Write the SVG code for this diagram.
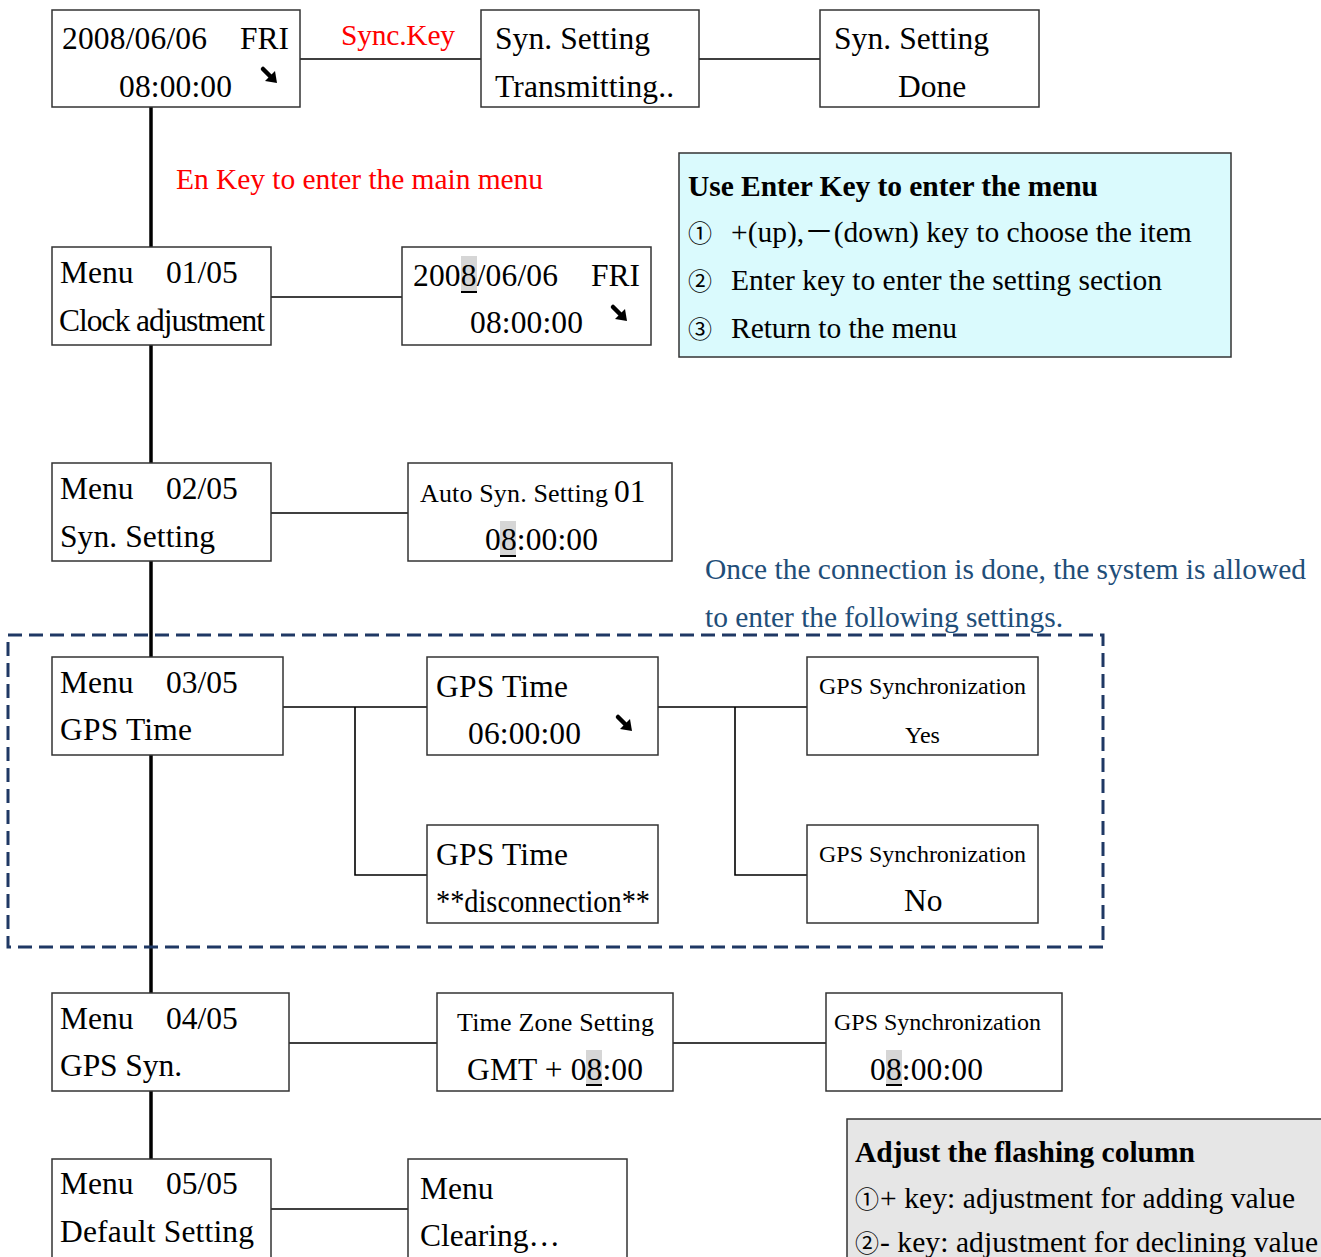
<svg xmlns="http://www.w3.org/2000/svg" width="1321" height="1257" viewBox="0 0 1321 1257">
<style>
text{font-family:"Liberation Serif","Times New Roman",serif;fill:#000}
.t{font-size:31.5px}
.s{font-size:24px}
.m{font-size:26px}
.i{font-size:29.5px}
.b{font-weight:bold;font-size:29.5px}
.red{fill:#ff0000;font-size:29.5px}
.blue{fill:#1f4e79;font-size:29.5px}
.box{fill:#fff;stroke:#333;stroke-width:1.5}
.hl{fill:#d6d6d6}
.ul{stroke:#000;stroke-width:2}
.c{stroke:#000;stroke-width:1.6;fill:none}
.trunk{stroke:#000;stroke-width:3.5;fill:none}
.circ{font-family:"Noto Sans CJK SC","DejaVu Sans",sans-serif;font-size:24px}
.cjk{font-family:"Noto Sans CJK SC",sans-serif}
</style>
<defs>
<g id="arr">
<path d="M1,1 L9,9" stroke="#000" stroke-width="4.5" stroke-linecap="round"/>
<polygon points="3,13 13,3 15,15" fill="#000"/>
</g>
</defs>
<rect width="1321" height="1257" fill="#fff"/>

<g id="connectors">
<path class="trunk" d="M151,107 V1159"/>
<path class="c" d="M300,59 H481 M699,59 H820"/>
<path class="c" d="M271,297 H402"/>
<path class="c" d="M271,513 H408"/>
<path class="c" d="M283,707 H427 M355,707 V875 H427"/>
<path class="c" d="M658,707 H807 M735,707 V875 H807"/>
<path class="c" d="M289,1043 H437 M673,1043 H826"/>
<path class="c" d="M271,1209 H408"/>
</g>

<g id="labels">
<text class="red" x="341" y="45" textLength="114">Sync.Key</text>
<text class="red" x="176" y="189" textLength="367">En Key to enter the main menu</text>
<text class="blue" x="705" y="579" textLength="601">Once the connection is done, the system is allowed</text>
<text class="blue" x="705" y="627" textLength="358">to enter the following settings.</text>
</g>

<g id="gps-region">
<rect x="8" y="635" width="1095" height="312" fill="none" stroke="#1f3864" stroke-width="3" stroke-dasharray="14 7"/>
</g>

<g id="n-home">
<rect class="box" x="52" y="10" width="248" height="97"/>
<text class="t" x="62" y="49" textLength="145">2008/06/06</text>
<text class="t" x="240" y="49">FRI</text>
<text class="t" x="119" y="97" textLength="113">08:00:00</text>
<use href="#arr" x="262" y="68"/>
</g>
<g id="n-syn-tx">
<rect class="box" x="481" y="10" width="218" height="97"/>
<text class="t" x="495" y="49" textLength="155">Syn. Setting</text>
<text class="t" x="495" y="97" textLength="179">Transmitting..</text>
</g>
<g id="n-syn-done">
<rect class="box" x="820" y="10" width="219" height="97"/>
<text class="t" x="834" y="49" textLength="155">Syn. Setting</text>
<text class="t" x="898" y="97">Done</text>
</g>

<g id="n-info">
<rect x="679" y="153" width="552" height="204" fill="#dafafd" stroke="#333" stroke-width="1.5"/>
<text class="b" x="688" y="196" textLength="410">Use Enter Key to enter the menu</text>
<text class="circ" x="688" y="242">①</text>
<text class="i" x="731" y="242">+(up),<tspan class="cjk">－</tspan>(down) key to choose the item</text>
<text class="circ" x="688" y="290">②</text>
<text class="i" x="731" y="290" textLength="431">Enter key to enter the setting section</text>
<text class="circ" x="688" y="338">③</text>
<text class="i" x="731" y="338" textLength="226">Return to the menu</text>
</g>

<g id="n-menu1">
<rect class="box" x="52" y="247" width="219" height="98"/>
<text class="t" x="60" y="283">Menu</text>
<text class="t" x="166" y="283">01/05</text>
<text class="t" x="59" y="331" textLength="206">Clock adjustment</text>
</g>
<g id="n-clock">
<rect class="box" x="402" y="247" width="249" height="98"/>
<rect class="hl" x="461" y="256" width="16" height="37"/>
<line class="ul" x1="461" y1="292" x2="477" y2="292"/>
<text class="t" x="413" y="286" textLength="145">2008/06/06</text>
<text class="t" x="591" y="286">FRI</text>
<text class="t" x="470" y="333" textLength="113">08:00:00</text>
<use href="#arr" x="612" y="306"/>
</g>

<g id="n-menu2">
<rect class="box" x="52" y="463" width="219" height="98"/>
<text class="t" x="60" y="499">Menu</text>
<text class="t" x="166" y="499">02/05</text>
<text class="t" x="60" y="547" textLength="155">Syn. Setting</text>
</g>
<g id="n-auto">
<rect class="box" x="408" y="463" width="264" height="98"/>
<rect class="hl" x="500" y="521" width="16" height="36"/>
<line class="ul" x1="500" y1="556" x2="516" y2="556"/>
<text class="m" x="420" y="502" textLength="188">Auto Syn. Setting</text>
<text class="t" x="614" y="502">01</text>
<text class="t" x="485" y="550" textLength="113">08:00:00</text>
</g>

<g id="n-menu3">
<rect class="box" x="52" y="657" width="231" height="98"/>
<text class="t" x="60" y="693">Menu</text>
<text class="t" x="166" y="693">03/05</text>
<text class="t" x="60" y="740" textLength="132">GPS Time</text>
</g>
<g id="n-gpstime">
<rect class="box" x="427" y="657" width="231" height="98"/>
<text class="t" x="436" y="697" textLength="132">GPS Time</text>
<text class="t" x="468" y="744" textLength="113">06:00:00</text>
<use href="#arr" x="617" y="716"/>
</g>
<g id="n-gpsdisc">
<rect class="box" x="427" y="825" width="231" height="98"/>
<text class="t" x="436" y="865" textLength="132">GPS Time</text>
<text class="t" x="436" y="912" textLength="214" lengthAdjust="spacingAndGlyphs">**disconnection**</text>
</g>
<g id="n-gpsyes">
<rect class="box" x="807" y="657" width="231" height="98"/>
<text class="s" x="819" y="694" textLength="207">GPS Synchronization</text>
<text class="s" x="905" y="743">Yes</text>
</g>
<g id="n-gpsno">
<rect class="box" x="807" y="825" width="231" height="98"/>
<text class="s" x="819" y="862" textLength="207">GPS Synchronization</text>
<text class="t" x="904" y="911">No</text>
</g>

<g id="n-menu4">
<rect class="box" x="52" y="993" width="237" height="98"/>
<text class="t" x="60" y="1029">Menu</text>
<text class="t" x="166" y="1029">04/05</text>
<text class="t" x="60" y="1076" textLength="122">GPS Syn.</text>
</g>
<g id="n-tz">
<rect class="box" x="437" y="993" width="236" height="98"/>
<rect class="hl" x="586" y="1050" width="16" height="36"/>
<line class="ul" x1="586" y1="1085" x2="602" y2="1085"/>
<text class="m" x="457" y="1031" textLength="197">Time Zone Setting</text>
<text class="t" x="467" y="1080" textLength="176">GMT + 08:00</text>
</g>
<g id="n-gpssync">
<rect class="box" x="826" y="993" width="236" height="98"/>
<rect class="hl" x="886" y="1050" width="16" height="36"/>
<line class="ul" x1="886" y1="1085" x2="902" y2="1085"/>
<text class="s" x="834" y="1030" textLength="207">GPS Synchronization</text>
<text class="t" x="870" y="1080" textLength="113">08:00:00</text>
</g>

<g id="n-menu5">
<rect class="box" x="52" y="1159" width="219" height="110"/>
<text class="t" x="60" y="1194">Menu</text>
<text class="t" x="166" y="1194">05/05</text>
<text class="t" x="60" y="1242" textLength="194">Default Setting</text>
</g>
<g id="n-clear">
<rect class="box" x="408" y="1159" width="219" height="110"/>
<text class="t" x="420" y="1199">Menu</text>
<text class="t" x="420" y="1246" textLength="140">Clearing…</text>
</g>

<g id="n-adjust">
<rect x="847" y="1119" width="490" height="160" fill="#e6e6e6" stroke="#333" stroke-width="1.5"/>
<text class="b" x="855" y="1162" textLength="340">Adjust the flashing column</text>
<text class="circ" x="855" y="1208">①</text>
<text class="i" x="880" y="1208" textLength="415">+ key: adjustment for adding value</text>
<text class="circ" x="855" y="1252">②</text>
<text class="i" x="880" y="1252" textLength="438">- key: adjustment for declining value</text>
</g>
</svg>
